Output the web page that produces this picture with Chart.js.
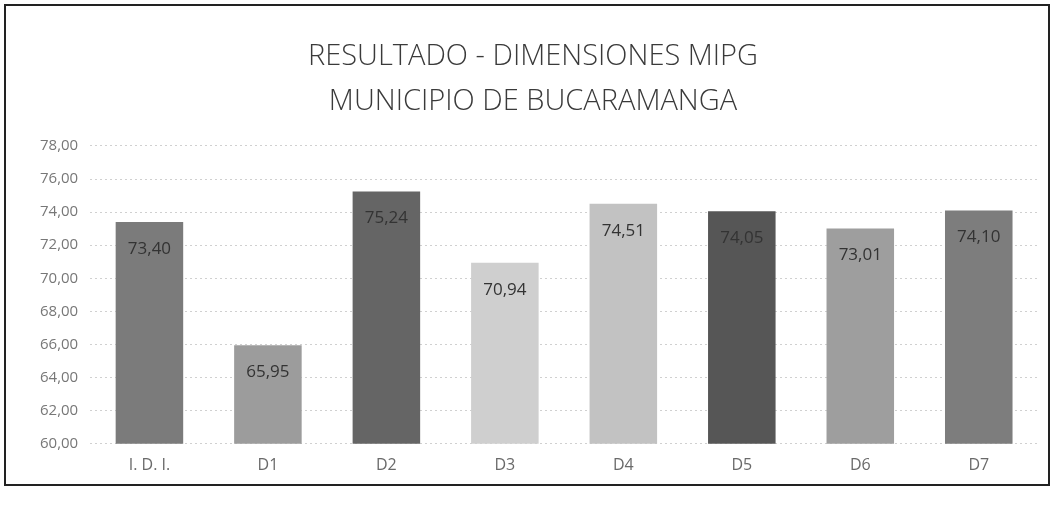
<!DOCTYPE html>
<html>
<head>
<meta charset="utf-8">
<script src="https://cdn.jsdelivr.net/npm/chart.js@4.4.1/dist/chart.umd.min.js"></script>
<style>
  html, body { margin: 0; padding: 0; background: #fff; }
  #frame {
    position: absolute; left: 4px; top: 4px; width: 1046px; height: 482px;
    border: 2px solid #222; box-sizing: border-box;
  }
  #wrap { position: absolute; left: 0; top: 0; width: 1042px; height: 478px; }
</style>
</head>
<body>
<div id="frame"><div id="wrap"><canvas id="chartMipg"></canvas></div></div>
<script>
// datos
const categorias = ["I. D. I.", "D1", "D2", "D3", "D4", "D5", "D6", "D7"];
const valores = [73.40, 65.95, 75.24, 70.94, 74.51, 74.05, 73.01, 74.10];
const colores = ["#7b7b7b", "#9c9c9c", "#656565", "#cfcfcf", "#c2c2c2", "#565656", "#9e9e9e", "#7d7d7d"];
const ticksY = [60, 62, 64, 66, 68, 70, 72, 74, 76, 78];
const titulo = ["RESULTADO - DIMENSIONES MIPG", "MUNICIPIO DE BUCARAMANGA"];

const coma = v => v.toFixed(2).replace('.', ',');

// etiquetas dentro de las barras
const etiquetas = {
  id: 'etiquetas',
  afterDatasetsDraw(chart) {
    const ctx = chart.ctx;
    const meta = chart.getDatasetMeta(0);
    ctx.save();
    ctx.font = '17px "Open Sans", sans-serif';
    ctx.fillStyle = '#333';
    ctx.textAlign = 'center';
    ctx.textBaseline = 'middle';
    meta.data.forEach((bar, i) => {
      ctx.fillText(coma(valores[i]), bar.x, bar.y + 27);
    });
    ctx.restore();
  }
};

const data = {
  labels: categorias,
  datasets: [
    {
      label: "Resultado",
      data: valores,
      backgroundColor: colores,
      borderWidth: 0,
      categoryPercentage: 0.57,
      barPercentage: 1.0,
    }
  ]
};

const config = {
  type: 'bar',
  data: data,
  options: {
    responsive: true,
    maintainAspectRatio: false,
    animation: false,
    layout: { padding: { left: 22, right: 10, top: 8, bottom: 5 } },
    plugins: {
      legend: { display: false },
      tooltip: { enabled: false },
      title: {
        display: true,
        text: titulo,
        color: '#3a3a3a',
        font: { family: '"Open Sans", sans-serif', size: 29, weight: 300, lineHeight: 1.55 },
        padding: { top: 20, bottom: 22 }
      }
    },
    scales: {
      x: {
        grid: { display: false },
        border: { display: false },
        ticks: { color: '#6a6a6a', font: { family: '"Open Sans", sans-serif', size: 16 }, padding: 4 }
      },
      y: {
        min: 60,
        max: 78,
        afterBuildTicks: axis => { axis.ticks = ticksY.map(v => ({ value: v })); },
        grid: { color: '#d0d0d0', lineWidth: 1, drawTicks: false },
        border: { display: false, dash: [2, 3] },
        ticks: {
          color: '#777',
          padding: 12,
          font: { family: '"Open Sans", sans-serif', size: 15 },
          callback: v => coma(v)
        }
      }
    }
  },
  plugins: [etiquetas]
};

new Chart(document.getElementById("chartMipg"), config);
</script>
</body>
</html>
